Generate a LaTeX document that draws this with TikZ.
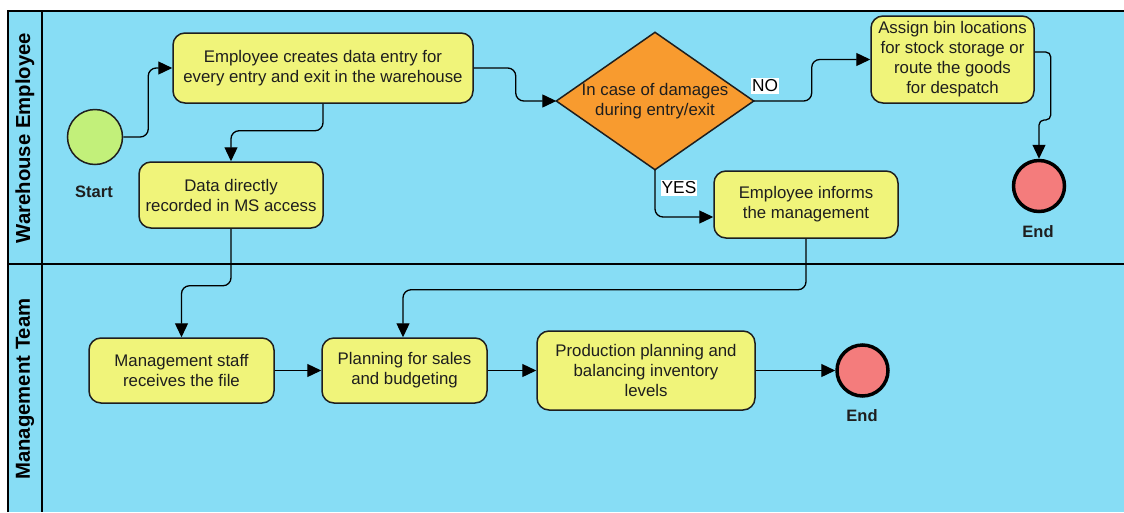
\documentclass[tikz,border=0pt]{standalone}
\usepackage{fontspec}
\setmainfont{Liberation Sans}
\usetikzlibrary{shapes.geometric,arrows.meta,calc}
\definecolor{lanebg}{RGB}{135,221,245}
\definecolor{taskfill}{RGB}{240,244,122}
\definecolor{diafill}{RGB}{248,155,47}
\definecolor{startfill}{RGB}{194,240,122}
\definecolor{endfill}{RGB}{244,124,124}
\definecolor{linec}{RGB}{30,30,30}
\begin{document}
\begin{tikzpicture}[x=1pt,y=-1pt,
  task/.style={draw=linec, line width=1.5pt, fill=taskfill, rounded corners=12pt, align=center, inner sep=0pt, text=linec, font=\fontsize{16.8}{20}\selectfont},
  conn/.style={draw=black, line width=1.3pt, rounded corners=8pt, -{Triangle[length=14pt,width=13pt]}},
  evlabel/.style={font=\bfseries\fontsize{16.5}{19}\selectfont, text=linec},
  branch/.style={fill=white, inner xsep=1pt, inner ysep=1.5pt, font=\fontsize{17.3}{19}\selectfont},
  lane/.style={rotate=90, font=\bfseries\fontsize{20.3}{23}\selectfont},
  endev/.style={circle, draw=black, line width=3.5pt, fill=endfill, minimum size=51pt, inner sep=0pt}
]
\useasboundingbox (0,0) rectangle (1124,512);
\fill[white] (0,0) rectangle (1124,512);
\fill[lanebg] (8,11) rectangle (1124,512);
\draw[line width=1.3pt] (8,512) -- (8,11) -- (1124,11);
\draw[line width=1.3pt] (42,11) -- (42,512);
\draw[line width=1.3pt] (8,264) -- (1124,264);

\node[lane] (lane1) at (25,138) {Warehouse Employee};
\node[lane] (lane2) at (25,389) {Management Team};

\node[circle, draw=linec, line width=1.5pt, fill=startfill, minimum size=55pt, inner sep=0pt] (start) at (95,137) {};
\node[evlabel] (startlbl) at (94,192) {Start};

\node[task, minimum width=300pt, minimum height=70pt] (b1) at (323,68) {Employee creates data entry for\\every entry and exit in the warehouse};
\node[task, minimum width=184pt, minimum height=66pt] (b2) at (231,195) {Data directly\\recorded in MS access};
\node[minimum width=197pt, minimum height=137pt, inner sep=0pt] (dia) at (655,101) {};
\filldraw[draw=linec, line width=1.5pt, fill=diafill] (dia.north) -- (dia.east) -- (dia.south) -- (dia.west) -- cycle;
\node[align=center, text=linec, inner sep=0pt, font=\fontsize{16.8}{20}\selectfont] (diatext) at (dia.center) {In case of damages\\during entry/exit};
\node[task, minimum width=163pt, minimum height=87pt] (assign) at (952.5,59.5) {Assign bin locations\\for stock storage or\\route the goods\\for despatch};
\node[endev] (end1) at (1039,186) {};
\node[evlabel] (end1lbl) at (1038,232) {End};
\node[task, minimum width=184pt, minimum height=67pt] (informs) at (806,204.5) {Employee informs\\the management};

\node[task, minimum width=185pt, minimum height=65pt] (mgmt) at (181.5,370.5) {Management staff\\receives the file};
\node[task, minimum width=165pt, minimum height=65pt] (plan) at (404.5,370.5) {Planning for sales\\and budgeting};
\node[task, minimum width=218pt, minimum height=79pt] (prod) at (646,370.5) {Production planning and\\balancing inventory\\levels};
\node[endev] (end2) at (862.5,370.5) {};
\node[evlabel] (end2lbl) at (862,416) {End};

\draw[conn] (start.east) -- ++(25,0) |- (b1.west);
\draw[conn] (b1.south) -- ++(0,27) -| (b2.north);
\draw[conn] (b1.east) -- ++(42,0) |- (dia.west);
\draw[conn] (dia.east) -- ++(58,0) |- (assign.west);
\draw[conn] (dia.south) |- ([yshift=-12.5pt]informs.west);
\draw[conn, rounded corners=5pt] ([yshift=7.5pt]assign.east) -- ++(16,0) -- ++(0,68) -| (end1.north);
\draw[conn] (b2.south) -- ++(0,57) -| (mgmt.north);
\draw[conn] (informs.south) -- ++(0,51) -| ([xshift=-1.5pt]plan.north);
\draw[conn] (mgmt.east) -- (plan.west);
\draw[conn] (plan.east) -- (prod.west);
\draw[conn] (prod.east) -- (end2.west);

\node[branch] (nolbl) at (765,86) {NO};
\node[branch] (yeslbl) at (679,188) {YES};
\end{tikzpicture}
\end{document}
